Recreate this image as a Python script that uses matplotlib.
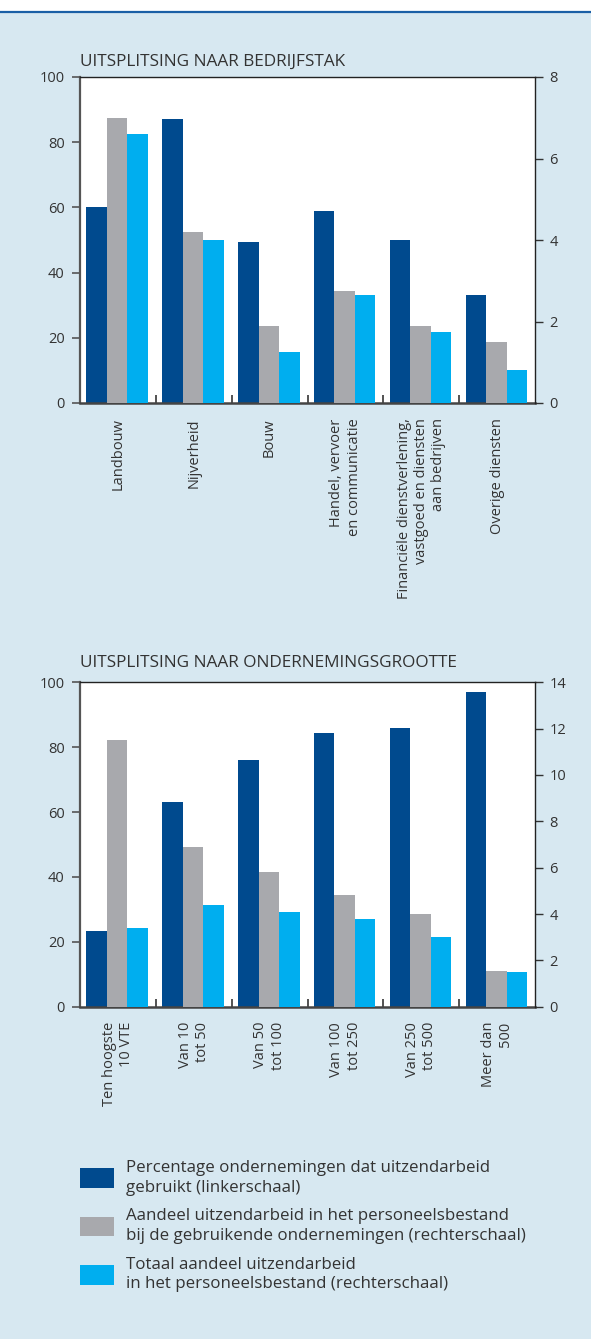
import matplotlib
matplotlib.use('Agg')
import matplotlib.pyplot as plt
import numpy as np
from matplotlib.lines import Line2D
from matplotlib.patches import Rectangle

# ---------------- data ----------------
sector_labels = ['Landbouw', 'Nijverheid', 'Bouw', 'Handel, vervoer\nen communicatie',
                 'Financiële dienstverlening,\nvastgoed en diensten\naan bedrijven',
                 'Overige diensten']
sector_pct = [60, 87, 49.5, 59, 50, 33]
sector_share_users = [7.0, 4.2, 1.9, 2.75, 1.9, 1.5]
sector_share_total = [6.6, 4.0, 1.25, 2.65, 1.75, 0.8]

size_labels = ['Ten hoogste\n10 VTE', 'Van 10\ntot 50', 'Van 50\ntot 100',
               'Van 100\ntot 250', 'Van 250\ntot 500', 'Meer dan\n500']
size_pct = [23.3, 63, 76, 84.3, 86, 97]
size_share_users = [11.5, 6.9, 5.8, 4.8, 4.0, 1.55]
size_share_total = [3.4, 4.4, 4.1, 3.8, 3.0, 1.5]

left_ticks = [0, 20, 40, 60, 80, 100]
right_ticks_1 = [0, 2, 4, 6, 8]
right_ticks_2 = [0, 2, 4, 6, 8, 10, 12, 14]

legend_labels = ['Percentage ondernemingen dat uitzendarbeid\ngebruikt (linkerschaal)',
                 'Aandeel uitzendarbeid in het personeelsbestand\nbij de gebruikende ondernemingen (rechterschaal)',
                 'Totaal aandeel uitzendarbeid\nin het personeelsbestand (rechterschaal)']

title_1 = 'UITSPLITSING NAAR BEDRIJFSTAK'
title_2 = 'UITSPLITSING NAAR ONDERNEMINGSGROOTTE'

# ---------------- style ----------------
BG = '#D7E8F1'
BLUE = '#004A8E'
GREY = '#A8A9AD'
CYAN = '#00AEEF'
TXT = '#333333'
LINE = '#1A5FA6'

plt.rcParams['font.family'] = ['Open Sans', 'DejaVu Sans']
plt.rcParams['text.color'] = TXT

W, H = 591, 1339
fig = plt.figure(figsize=(W / 100, H / 100), dpi=100, facecolor='white')

fig.add_artist(Rectangle((0, 0), 1, 1 - 12.5 / H, transform=fig.transFigure,
                         facecolor=BG, edgecolor='none', zorder=-10))
fig.add_artist(Line2D([0, 1], [1 - 12 / H] * 2, transform=fig.transFigure,
                      color=LINE, lw=1.6))

FS_TICK = 10.5
FS_TITLE = 12.4
FS_LEG = 12.2


def px(x0, y0, x1, y1):
    return [x0 / W, 1 - y1 / H, (x1 - x0) / W, (y1 - y0) / H]


def panel(rect, title, title_y, labels, pct, users, total, rmax, rticks):
    ax = fig.add_axes(rect)
    ax.set_facecolor('white')
    ax2 = ax.twinx()
    n = len(labels)
    x = np.arange(n)
    w = 0.27
    bars = []
    bars.append(ax.bar(x - w - 0.01, pct, w, color=BLUE, lw=0))
    bars.append(ax2.bar(x - 0.01, users, w, color=GREY, lw=0))
    bars.append(ax2.bar(x + w - 0.01, total, w, color=CYAN, lw=0))
    ax.set_xlim(-0.5, n - 0.5)
    ax.set_ylim(0, 100)
    ax2.set_ylim(0, rmax)
    ax.set_yticks(left_ticks)
    ax2.set_yticks(rticks)
    ax.set_xticks(x)
    ax.set_xticklabels(labels, rotation=90, va='top', ha='center',
                       multialignment='right', fontsize=FS_TICK, color=TXT)
    ax.set_xticks(np.arange(0.5, n - 0.5, 1), minor=True)
    ax.tick_params(axis='x', which='major', length=0, pad=11)
    ax.tick_params(axis='x', which='minor', direction='in', length=5.8, width=1.3,
                   color='#444444')
    ax.tick_params(axis='y', which='major', direction='out', length=6, width=1.2,
                   color='#555555', labelsize=FS_TICK, labelcolor=TXT, pad=5)
    ax2.tick_params(axis='y', which='major', direction='out', length=6, width=1.0,
                    color='#333333', labelsize=FS_TICK, labelcolor=TXT, pad=4.5)
    for a in (ax, ax2):
        for s in a.spines.values():
            s.set_visible(False)
    ax.spines['left'].set_visible(True)
    ax.spines['left'].set_color('#555555')
    ax.spines['left'].set_linewidth(1.6)
    ax.spines['bottom'].set_visible(True)
    ax.spines['bottom'].set_color('#444444')
    ax.spines['bottom'].set_linewidth(1.8)
    ax2.spines['top'].set_visible(True)
    ax2.spines['top'].set_color('#222222')
    ax2.spines['top'].set_linewidth(1.0)
    ax2.spines['right'].set_visible(True)
    ax2.spines['right'].set_color('#222222')
    ax2.spines['right'].set_linewidth(1.0)
    fig.text(80 / W, 1 - title_y / H, title, fontsize=FS_TITLE, color=TXT,
             ha='left', va='baseline')
    return bars


bars = panel(px(80, 77, 535, 403), title_1, 66, sector_labels, sector_pct,
             sector_share_users, sector_share_total, 8, right_ticks_1)
panel(px(80, 682.3, 535, 1006.7), title_2, 667, size_labels, size_pct,
      size_share_users, size_share_total, 14, right_ticks_2)

leg = fig.legend([b[0] for b in bars], legend_labels, loc='upper left',
                 bbox_to_anchor=(80 / W, 1 - 1160 / H), frameon=False,
                 fontsize=FS_LEG, handlelength=2.0, handleheight=1.4,
                 handletextpad=0.7, labelspacing=0.75, borderpad=0, borderaxespad=0,
                 labelcolor=TXT)
for t in leg.get_texts():
    t.set_linespacing(1.3)

fig.savefig('out.png', dpi=100, facecolor=fig.get_facecolor())
